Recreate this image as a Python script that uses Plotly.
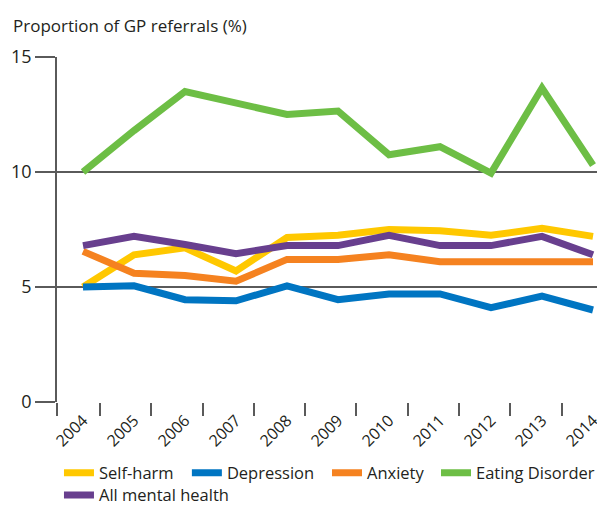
import plotly.graph_objects as go

years = [2004, 2005, 2006, 2007, 2008, 2009, 2010, 2011, 2012, 2013, 2014]
year_labels = [str(y) for y in years]

self_harm = [5.0, 6.4, 6.7, 5.7, 7.15, 7.25, 7.5, 7.45, 7.25, 7.55, 7.2]
depression = [5.0, 5.05, 4.45, 4.4, 5.05, 4.45, 4.7, 4.7, 4.1, 4.6, 4.0]
anxiety = [6.55, 5.6, 5.5, 5.25, 6.2, 6.2, 6.4, 6.1, 6.1, 6.1, 6.1]
eating_disorder = [10.0, 11.8, 13.5, 13.0, 12.5, 12.65, 10.75, 11.1, 9.95, 13.65, 10.3]
all_mental_health = [6.8, 7.2, 6.85, 6.45, 6.8, 6.8, 7.25, 6.8, 6.8, 7.2, 6.4]

series_names = ["Self-harm", "Depression", "Anxiety", "Eating Disorder", "All mental health"]
series_values = [self_harm, depression, anxiety, eating_disorder, all_mental_health]
series_colors = ["#FFC800", "#0075C2", "#F58220", "#6DBE45", "#683F8E"]

# legend entry placement (paper coords): one legend per entry
legend_ids = ["legend", "legend2", "legend3", "legend4", "legend5"]
legend_x = [0.0036, 0.237, 0.4927, 0.6916, 0.0036]
legend_y = [-0.206, -0.206, -0.206, -0.206, -0.27]

y_ticks = [0, 5, 10, 15]
x_minor_ticks = [2003.495, 2004.33, 2005.33, 2006.35, 2007.35, 2008.35,
                 2009.35, 2010.37, 2011.37, 2012.37, 2013.39]

FONT = "Open Sans"
GRID = "#5a5a5a"
TXT = "#231f20"

fig = go.Figure()
for name, vals, color, leg in zip(series_names, series_values, series_colors, legend_ids):
    fig.add_trace(go.Scatter(
        x=years, y=vals, name=name, mode="lines",
        line=dict(color=color, width=7), legend=leg,
    ))

legend_common = dict(
    orientation="h", xanchor="left", yanchor="middle",
    font=dict(size=16.5, family=FONT, color=TXT),
    itemwidth=30, bgcolor="rgba(0,0,0,0)",
)

legends = {lid: dict(x=lx, y=ly, **legend_common)
           for lid, lx, ly in zip(legend_ids, legend_x, legend_y)}

fig.update_layout(
    width=597, height=498,
    margin=dict(l=49, r=0, t=49, b=104, autoexpand=False),
    paper_bgcolor="white", plot_bgcolor="white",
    font=dict(family=FONT, color=TXT),
    showlegend=True,
    annotations=[dict(
        text="Proportion of GP referrals (%)", xref="paper", yref="paper",
        x=-0.084, y=1.09, xanchor="left", yanchor="middle", showarrow=False,
        font=dict(size=17, family=FONT, color=TXT),
    )],
    **legends,
)

fig.update_xaxes(
    range=[2003.49, 2014.235], automargin=False,
    tickmode="array", tickvals=years, ticktext=year_labels,
    tickangle=-45, ticks="", showgrid=False, zeroline=False,
    showline=False, ticklabelstandoff=5,
    tickfont=dict(size=16, family=FONT, color=TXT),
    minor=dict(tickmode="array", tickvals=x_minor_ticks, ticks="outside",
               ticklen=13, tickwidth=1.5, tickcolor=GRID, showgrid=False),
)

fig.update_yaxes(
    range=[0, 15], tickmode="array", tickvals=y_ticks, automargin=False,
    showgrid=True, gridcolor=GRID, gridwidth=1.5,
    ticks="outside", ticklen=20, tickwidth=1.5, tickcolor=GRID,
    showline=True, linecolor=GRID, linewidth=1.5,
    zeroline=False,
    tickfont=dict(size=18, family=FONT, color=TXT),
)

fig.write_html("out.html")
